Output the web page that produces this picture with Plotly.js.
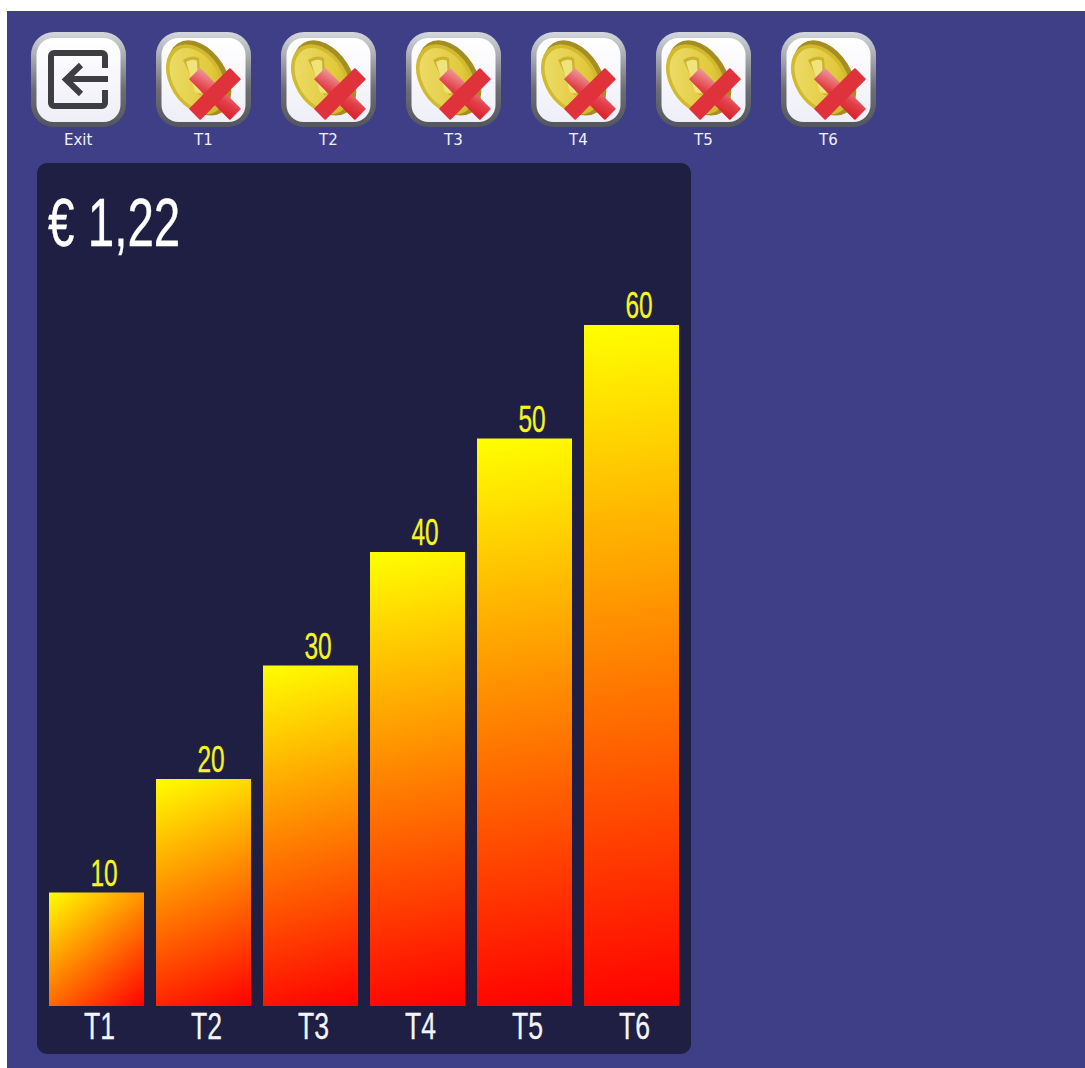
<!DOCTYPE html>
<html><head><meta charset="utf-8">
<script src="https://cdn.plot.ly/plotly-3.0.1.min.js"></script>
<style>
html,body{margin:0;padding:0;background:#fff;width:1085px;height:1068px;overflow:hidden}
#page{position:absolute;left:7px;top:11px;width:1078px;height:1057px;background:#3e3f87}
#panel{position:absolute;left:37px;top:163px;width:654px;height:891px;background:#1e1f42;border-radius:10px}
#chart{position:absolute;left:0;top:0;width:1085px;height:1068px}
</style></head><body>
<div id="page"></div><div id="panel"></div><div id="chart"></div>
<script>
const categories = ['T1','T2','T3','T4','T5','T6'];
const values = [10,20,30,40,50,60];
const buttonLabels = ['Exit','T1','T2','T3','T4','T5','T6'];
const totalLabel = '€ 1,22';

const W=1085,H=1068,L=43,R=685,T=163,B=1006;
const px=x=>(x-L)/(R-L), py=y=>(B-y)/(B-T);
const frame=`<defs><filter id="b"><feGaussianBlur stdDeviation="0.7"/></filter><linearGradient id="f" x1="0" y1="0" x2="0" y2="1"><stop offset="0" stop-color="#d4d7dc"/><stop offset=".25" stop-color="#a9acb2"/><stop offset=".6" stop-color="#6c6e74"/><stop offset="1" stop-color="#55565e"/></linearGradient><linearGradient id="i" x1="0" y1="0" x2="0" y2="1"><stop offset="0" stop-color="#fff"/><stop offset="1" stop-color="#eeeef8"/></linearGradient><linearGradient id="g" x1="0" y1="0" x2="1" y2="1"><stop offset="0" stop-color="#eee070"/><stop offset=".7" stop-color="#e2c93c"/><stop offset="1" stop-color="#c9ac22"/></linearGradient><linearGradient id="x" x1="0" y1="0" x2="1" y2="1"><stop offset="0" stop-color="#ee9a9a"/><stop offset=".55" stop-color="#e2404a"/><stop offset="1" stop-color="#d8202a"/></linearGradient></defs><rect x="0" y="0" width="95" height="95" rx="23" fill="url(#f)" filter="url(#b)"/><rect x="5.5" y="6" width="84" height="84" rx="17" fill="url(#i)" filter="url(#b)"/>`;
const svgUri=b=>'data:image/svg+xml;charset=utf-8,'+encodeURIComponent(`<svg xmlns="http://www.w3.org/2000/svg" width="95" height="95" viewBox="0 0 95 95">${frame}<g filter="url(#b)">${b}</g></svg>`);
const exitIcon=svgUri(`<path d="M74 36V24a3 3 0 0 0-3-3H23a3 3 0 0 0-3 3v47a3 3 0 0 0 3 3h48a3 3 0 0 0 3-3V58" fill="none" stroke="#3c3c42" stroke-width="6"/><path d="M77 47H37M50 33L35 47.5L50 62" fill="none" stroke="#3c3c42" stroke-width="6"/>`);
const coinIcon=svgUri(`<g transform="rotate(-32 42 47)"><ellipse cx="44" cy="47" rx="27" ry="41" fill="#a58f22"/><ellipse cx="40" cy="46" rx="26" ry="38" fill="#d2b92e"/><ellipse cx="40" cy="46" rx="22.5" ry="34" fill="url(#g)"/></g><path d="M27 28q8-6 16-2l2 26 6 12-8-1-6-14z" fill="#cdb22e"/><path d="M30 30q7-4 11-1l1 24 4 9-7-2-4-14z" fill="#efe47c"/><g transform="rotate(45 59 62)"><rect x="30" y="54" width="58" height="16" rx="1" fill="url(#x)"/><rect x="51" y="33" width="16" height="58" rx="1" fill="#e0303a"/></g>`);

const images=buttonLabels.map((t,i)=>({source:i===0?exitIcon:coinIcon,xref:'paper',yref:'paper',x:px(31+125*i),y:py(32),sizex:95/(R-L),sizey:95/(B-T),sizing:'stretch',xanchor:'left',yanchor:'top',layer:'above'}));
const annotations=[
 ...categories.map((c,i)=>({x:c,y:values[i],xref:'x',yref:'y',text:String(values[i]),showarrow:false,xanchor:'center',yanchor:'bottom',xshift:7.5,yshift:-3,font:{family:'"Liberation Sans"',size:36,color:'#f6f61e'}})),
 ...buttonLabels.map((t,i)=>({xref:'paper',yref:'paper',x:px(78+125*i),y:py(140),text:t,showarrow:false,xanchor:'center',yanchor:'middle',font:{family:'"DejaVu Sans"',size:15,color:'#f0f0f8'}})),
 {xref:'paper',yref:'paper',x:px(46),y:py(222),text:totalLabel,showarrow:false,xanchor:'left',yanchor:'middle',font:{family:'"Liberation Sans"',size:68,color:'#ffffff'}}
];
Plotly.newPlot('chart',[{type:'bar',x:categories,y:values,marker:{color:'#ff8000',line:{width:0}},hoverinfo:'skip'}],{
 width:W,height:H,margin:{l:L,r:W-R,t:T,b:H-B,pad:0},paper_bgcolor:'rgba(0,0,0,0)',plot_bgcolor:'rgba(0,0,0,0)',
 bargap:12/107,showlegend:false,
 xaxis:{type:'category',range:[-0.5,5.5],showgrid:false,zeroline:false,showline:false,ticks:'',ticklabelstandoff:0,tickfont:{family:'"Liberation Sans"',size:37,color:'#f4f4fa'}},
 yaxis:{range:[0,843/11.35],visible:false},
 images,annotations
},{staticPlot:true,displayModeBar:false}).then(gd=>{
 const svg=gd.querySelector('.main-svg');
 const defs=svg.querySelector('defs');
 const NS='http://www.w3.org/2000/svg';
 gd.querySelectorAll('.bars .point path').forEach((p,i)=>{
  const b=p.getBBox();
  const g=document.createElementNS(NS,'linearGradient');
  g.setAttribute('id','barGrad'+i);g.setAttribute('gradientUnits','userSpaceOnUse');
  g.setAttribute('x1',b.x);g.setAttribute('y1',b.y);g.setAttribute('x2',b.x+b.width);g.setAttribute('y2',b.y+b.height);
  [['0','#ffff00'],['1','#ff0000']].forEach(([o,c])=>{const s=document.createElementNS(NS,'stop');s.setAttribute('offset',o);s.setAttribute('stop-color',c);g.appendChild(s);});
  defs.appendChild(g);
  p.style.fill='url(#barGrad'+i+')';
 });
 const condense=(t,sx,dx,dy,anchorLeft,sw)=>{
  const b=t.getBBox();const cx=anchorLeft?b.x:b.x+b.width/2;
  const old=t.getAttribute('transform')||'';
  t.setAttribute('transform',`${old} translate(${cx+dx},${dy}) scale(${sx},1) translate(${-cx},0)`);
  t.style.stroke=t.style.fill;t.style.strokeWidth=sw+'px';
 };
 gd.querySelectorAll('.annotation text').forEach(t=>{
  const s=t.textContent;
  if(s===totalLabel) condense(t,0.70,0,0,true,0.4);
  else if(/^\d+$/.test(s)) condense(t,0.68,0,0,false,0.3);
 });
 gd.querySelectorAll('.xtick text').forEach(t=>condense(t,0.72,3,-5,false,0.3));
});
</script></body></html>
